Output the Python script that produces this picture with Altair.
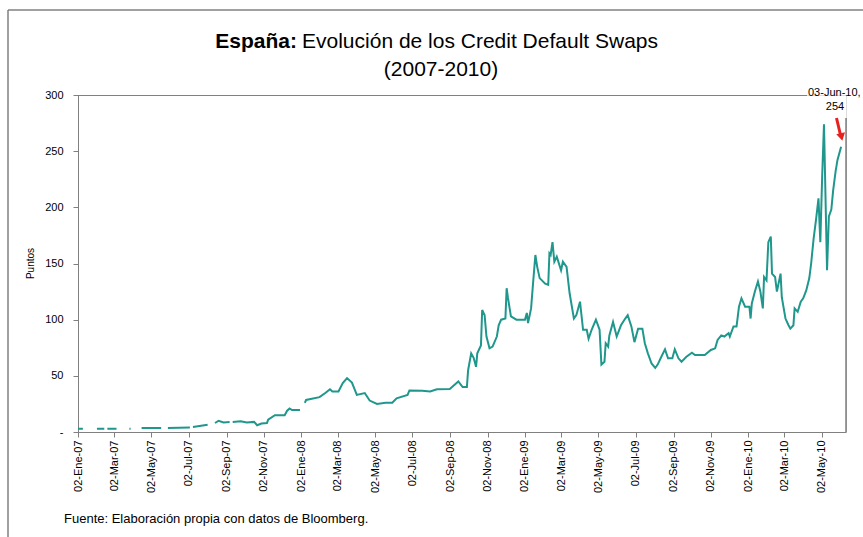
import altair as alt
import pandas as pd

# ---------------- data ----------------
FECHAS = [
    "2007-01-02", "2007-01-10", "2007-01-20", "2007-02-02", "2007-02-14", "2007-02-16",
    "2007-02-19", "2007-03-06", "2007-03-15", "2007-03-27", "2007-03-29", "2007-04-08",
    "2007-04-16", "2007-05-18", "2007-05-23", "2007-05-29", "2007-07-04", "2007-07-06",
    "2007-07-09", "2007-08-02", "2007-08-08", "2007-08-14", "2007-08-20", "2007-08-28",
    "2007-09-07", "2007-09-10", "2007-09-12", "2007-09-25", "2007-10-05", "2007-10-17",
    "2007-10-22", "2007-10-29", "2007-11-07", "2007-11-09", "2007-11-20", "2007-12-06",
    "2007-12-10", "2007-12-14", "2007-12-18", "2007-12-31", "2008-01-03",
    "2008-01-08", "2008-01-10", "2008-02-01", "2008-02-11", "2008-02-18", "2008-02-22",
    "2008-03-03", "2008-03-10", "2008-03-17", "2008-03-25", "2008-04-02", "2008-04-15",
    "2008-04-23", "2008-05-05", "2008-05-19", "2008-05-30", "2008-06-06", "2008-06-24",
    "2008-06-27", "2008-07-18", "2008-07-31", "2008-08-11", "2008-09-01", "2008-09-15",
    "2008-09-22", "2008-09-29", "2008-10-01", "2008-10-06", "2008-10-10", "2008-10-14",
    "2008-10-16", "2008-10-22", "2008-10-24", "2008-10-28", "2008-10-31", "2008-11-05",
    "2008-11-10", "2008-11-17", "2008-11-20", "2008-11-24", "2008-12-01", "2008-12-03",
    "2008-12-05", "2008-12-10", "2008-12-19",
    "2009-01-02", "2009-01-05", "2009-01-07", "2009-01-12", "2009-01-15", "2009-01-19",
    "2009-01-22", "2009-01-26", "2009-02-04", "2009-02-09", "2009-02-11", "2009-02-13",
    "2009-02-16", "2009-02-19", "2009-02-23", "2009-03-02", "2009-03-05", "2009-03-11",
    "2009-03-16", "2009-03-23", "2009-03-27", "2009-04-02", "2009-04-07", "2009-04-13",
    "2009-04-16", "2009-04-21", "2009-04-28", "2009-05-04", "2009-05-07", "2009-05-12",
    "2009-05-14", "2009-05-18", "2009-05-20", "2009-05-26", "2009-06-01", "2009-06-08",
    "2009-06-15", "2009-06-19", "2009-06-25", "2009-06-30", "2009-07-06", "2009-07-13",
    "2009-07-17", "2009-07-22", "2009-07-28", "2009-08-03", "2009-08-07", "2009-08-13",
    "2009-08-19", "2009-08-24", "2009-08-31", "2009-09-04", "2009-09-10", "2009-09-15",
    "2009-09-23", "2009-10-02", "2009-10-07", "2009-10-23", "2009-11-02", "2009-11-09",
    "2009-11-13", "2009-11-19", "2009-11-24", "2009-12-01", "2009-12-03", "2009-12-09",
    "2009-12-14", "2009-12-18", "2009-12-22", "2009-12-28",
    "2010-01-04", "2010-01-06", "2010-01-08", "2010-01-13", "2010-01-18", "2010-01-22",
    "2010-01-26", "2010-01-28", "2010-02-01", "2010-02-04", "2010-02-08", "2010-02-10",
    "2010-02-15", "2010-02-18", "2010-02-24", "2010-02-26", "2010-03-04", "2010-03-09",
    "2010-03-12", "2010-03-17", "2010-03-19", "2010-03-24", "2010-03-29", "2010-04-02",
    "2010-04-07", "2010-04-12", "2010-04-15", "2010-04-19", "2010-04-23", "2010-04-27",
    "2010-04-30", "2010-05-03", "2010-05-06", "2010-05-11", "2010-05-14", "2010-05-18",
    "2010-05-21", "2010-05-25", "2010-05-28", "2010-06-03",
]
PUNTOS = [
    3, 3, None, 3, 3, None,
    3, 3, None, 3, 3, None,
    3.5, 3.5, None, 3.5, 4, None,
    4.5, 6.5, None, 8, 10, 8.5,
    9, None, 9, 9.5, 8.5, 9,
    6, 7.5, 8, 11, 15, 15,
    19, 21, 19.5, 19.5, None,
    26, 28.5, 31, 35, 38, 36,
    36, 43.6, 48, 44, 33, 34.7,
    28, 25, 26, 26, 30, 33,
    37, 36.8, 36, 38, 38.3, 45,
    40, 40, 55, 70, 66, 58,
    70, 77, 108.6, 104, 85, 74.5,
    76, 85, 95, 100, 101, 128,
    120, 103, 100,
    100, 106, 97, 110, 131, 157.6,
    147, 137, 132, 131, 159, 157.6,
    169, 151.6, 156, 144, 151.6, 147,
    123.5, 101, 104, 116, 91, 91,
    83, 91, 100, 91, 60, 62.6,
    79, 76, 86, 98, 85, 95,
    101, 104, 94, 80, 92, 92,
    79, 70, 61, 57, 60, 67,
    73.6, 65.6, 65.6, 73.6, 65.6, 62.6,
    67, 70.6, 68.5, 68.5, 73, 74.5,
    82, 86, 85, 88, 85, 94,
    94, 111.5, 119, 111.5,
    111.5, 101, 114.5, 125, 134, 125,
    110, 138, 135, 169, 174, 141,
    138, 125, 141, 120, 101, 95,
    92, 95, 110, 107, 116, 119,
    126, 137, 150, 172, 189, 208,
    169, 227, 274, 144, 192, 198,
    215, 232, 242, 254,
]

Y_TICKS = [0, 50, 100, 150, 200, 250, 300]
X_TICKS = [
    "2007-01-02", "2007-03-02", "2007-05-02", "2007-07-02", "2007-09-02", "2007-11-02",
    "2008-01-02", "2008-03-02", "2008-05-02", "2008-07-02", "2008-09-02", "2008-11-02",
    "2009-01-02", "2009-03-02", "2009-05-02", "2009-07-02", "2009-09-02", "2009-11-02",
    "2010-01-02", "2010-03-02", "2010-05-02",
]
X_DOMINIO = ["2007-01-02", "2010-06-11"]
MESES = ["Ene", "Feb", "Mar", "Abr", "May", "Jun", "Jul", "Ago", "Sep", "Oct", "Nov", "Dic"]

TITULO_NEGRITA = "España:"
TITULO = "Evolución de los Credit Default Swaps"
SUBTITULO = "(2007-2010)"
FUENTE = "Fuente: Elaboración propia con datos de Bloomberg."
ANOTACION = ["03-Jun-10,", "254"]
EJE_Y = "Puntos"

# ---------------- helpers ----------------
FONT = "Liberation Sans"
GRIS = "#808080"
TEAL = "#1f978c"
ROJO = "#e82020"
W, H = 768, 337


def dt(s):
    y, m, d = (int(v) for v in s.split("-"))
    return alt.DateTime(year=y, month=m, date=d, utc=True)


df = pd.DataFrame({"fecha": FECHAS, "puntos": PUNTOS})
uno = pd.DataFrame({"k": [0]})
meses_js = "[" + ",".join(f"'{m}'" for m in MESES) + "]"

x_enc = alt.X(
    "fecha:T",
    scale=alt.Scale(type="utc", domain=[dt(s) for s in X_DOMINIO]),
    axis=alt.Axis(
        values=[dt(s) for s in X_TICKS],
        labelExpr=f"utcFormat(datum.value, '%d') + '-' + {meses_js}[utcmonth(datum.value)] + '-' + utcFormat(datum.value, '%y')",
        labelAngle=270,
        labelAlign="right",
        labelBaseline="middle",
        labelFontSize=11,
        labelColor="#000000",
        labelFont=FONT,
        tickSize=5,
        labelPadding=3,
        tickColor=GRIS,
        domainColor=GRIS,
        grid=False,
        title=None,
        labelOverlap=False,
    ),
)
y_enc = alt.Y(
    "puntos:Q",
    scale=alt.Scale(domain=[0, 300], nice=False, zero=True),
    axis=alt.Axis(
        values=Y_TICKS,
        labelExpr="datum.value == 0 ? '-\u00a0\u00a0\u00a0\u00a0\u00a0\u00a0' : datum.label",
        labelFontSize=11,
        labelColor="#000000",
        labelFont=FONT,
        tickSize=5,
        labelPadding=10,
        tickColor=GRIS,
        domainColor=GRIS,
        grid=False,
        title=EJE_Y,
        titleFont=FONT,
        titleFontSize=10,
        titleFontWeight="normal",
        titleColor="#000000",
        titleX=-48,
        titleY=168,
        titleAngle=270,
        titleAlign="center",
        titleBaseline="middle",
    ),
)

linea = alt.Chart(df).mark_line(
    color=TEAL, strokeWidth=2, invalid="break-paths-show-domains"
).encode(x=x_enc, y=y_enc)

# plot-area frame (top + right), interrupted by the annotation
marco_sup = alt.Chart(uno).mark_rule(color=GRIS, strokeWidth=1).encode(
    x=alt.value(0), x2=alt.value(729), y=alt.value(0.5)
)
marco_der = alt.Chart(uno).mark_rule(color="#404040", strokeWidth=1).encode(
    x=alt.value(768), y=alt.value(23), y2=alt.value(H)
)
# outer chart border
borde_sup = alt.Chart(uno).mark_rule(color=GRIS, strokeWidth=1.5).encode(
    x=alt.value(-70), x2=alt.value(790), y=alt.value(-85)
)
borde_izq = alt.Chart(uno).mark_rule(color=GRIS, strokeWidth=1.5).encode(
    x=alt.value(-70), y=alt.value(-85), y2=alt.value(450)
)


def texto(t, x, y, size, align="center", weight="normal"):
    return alt.Chart(pd.DataFrame({"t": [t]})).mark_text(
        font=FONT, fontSize=size, fontWeight=weight, align=align,
        baseline="middle", color="#000000",
    ).encode(text="t:N", x=alt.value(x), y=alt.value(y))


t_negrita = texto(TITULO_NEGRITA, 219, -53, 21, align="right", weight="bold")
t_titulo = texto(TITULO, 224, -53, 21, align="left")
t_sub = texto(SUBTITULO, 363, -25, 21)
t_fuente = texto(FUENTE, -14, 424, 13, align="left")
t_anot1 = texto(ANOTACION[0], 730, -2, 11, align="left")
t_anot2 = texto(ANOTACION[1], 757, 12, 11)

flecha = alt.Chart(uno).mark_rule(color=ROJO, strokeWidth=3).encode(
    x=alt.value(758.5), y=alt.value(23), x2=alt.value(762.5), y2=alt.value(40)
)
punta = alt.Chart(uno).mark_point(
    shape="triangle-down", filled=True, color=ROJO, size=80, angle=347, opacity=1
).encode(x=alt.value(763.5), y=alt.value(42))

chart = alt.layer(
    borde_sup, borde_izq, marco_sup, marco_der, linea,
    t_negrita, t_titulo, t_sub, t_fuente, t_anot1, t_anot2, flecha, punta,
).properties(
    width=W,
    height=H,
    autosize=alt.AutoSizeParams(type="none"),
    padding={"left": 78, "top": 95, "right": 17, "bottom": 105},
    background="white",
).configure_view(stroke="transparent").configure(font=FONT)

chart.save("out.html", embed_options={"renderer": "svg", "actions": False})
